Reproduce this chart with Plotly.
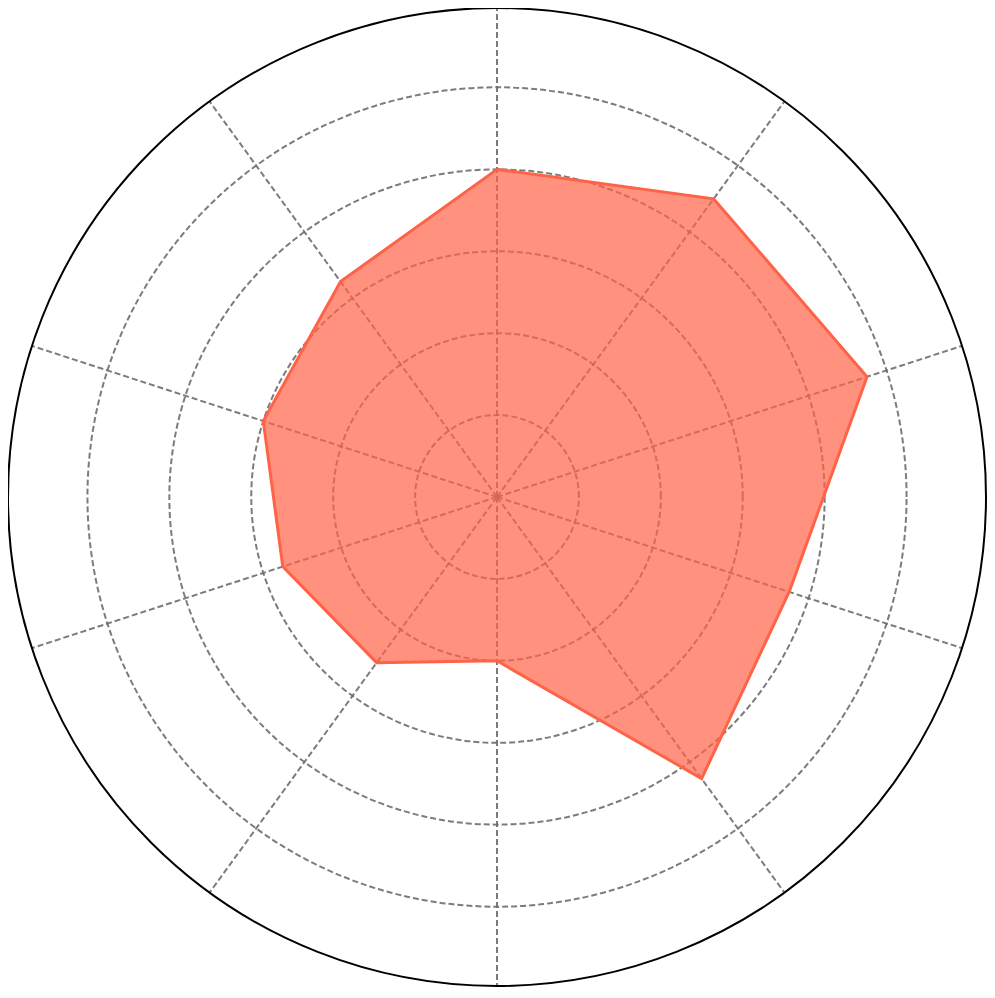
import plotly.graph_objects as go

categories = ["A", "B", "C", "D", "E", "F", "G", "H", "I", "J"]
values = [4.0, 4.5, 4.75, 3.75, 4.25, 2.0, 2.5, 2.75, 3.0, 3.25]

theta = categories + [categories[0]]
r = values + [values[0]]

fig = go.Figure()
fig.add_trace(go.Scatterpolar(
    r=r, theta=theta, mode="lines", fill="toself",
    line=dict(color="#FF6347", width=3),
    fillcolor="rgba(255,99,71,0.7)",
    hoverinfo="skip", showlegend=False,
))

fig.update_layout(
    width=995, height=998,
    margin=dict(l=0, r=17, t=0, b=20),
    paper_bgcolor="white",
    showlegend=False,
    polar=dict(
        bgcolor="white",
        domain=dict(x=[0, 1], y=[0, 1]),
        radialaxis=dict(
            range=[0, 5.97], dtick=1, tick0=0,
            showticklabels=False, ticks="", showline=False,
            gridcolor="rgba(110,110,110,0.9)", griddash="6px,3px", gridwidth=1.5,
        ),
        angularaxis=dict(
            rotation=90, direction="clockwise",
            showticklabels=False, ticks="",
            showline=True, linecolor="black", linewidth=2,
            gridcolor="rgba(110,110,110,0.9)", griddash="6px,3px", gridwidth=1.5,
        ),
    ),
)

fig.write_html("out.html")
